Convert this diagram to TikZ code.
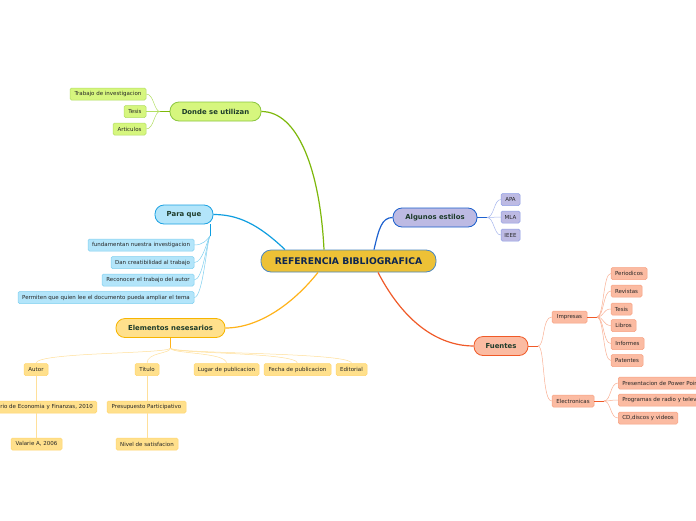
\documentclass[tikz,border=0pt]{standalone}
\usepackage{fontspec}
\setmainfont{DejaVu Sans}
\definecolor{mainf}{HTML}{EDC136}
\definecolor{mainb}{HTML}{4A86C0}
\definecolor{maint}{HTML}{0D2550}
\definecolor{brt}{HTML}{1D3B2A}
\definecolor{leaft}{HTML}{262626}
\definecolor{gf}{HTML}{D6F67E}
\definecolor{gb}{HTML}{8CC63F}
\definecolor{gl}{HTML}{B2DE62}
\definecolor{gc}{HTML}{7DB80A}
\definecolor{bf}{HTML}{B3E5FA}
\definecolor{bb}{HTML}{1BA1E2}
\definecolor{bl}{HTML}{80D0F0}
\definecolor{bc}{HTML}{0F9EE0}
\definecolor{yf}{HTML}{FFE08C}
\definecolor{yb}{HTML}{F7B500}
\definecolor{yl}{HTML}{FFD66E}
\definecolor{yc}{HTML}{FFB31A}
\definecolor{yline}{HTML}{FFE09A}
\definecolor{lf}{HTML}{BDBAE3}
\definecolor{lb}{HTML}{1A5FCC}
\definecolor{ll}{HTML}{8E9EE6}
\definecolor{lc}{HTML}{1E62D0}
\definecolor{lline}{HTML}{A8B8EE}
\definecolor{rf}{HTML}{FBBBA2}
\definecolor{rb}{HTML}{F05A28}
\definecolor{rl}{HTML}{F8A080}
\definecolor{rc}{HTML}{F05A28}
\definecolor{rline}{HTML}{FAB094}
\tikzset{
  mainnode/.style={draw=mainb, fill=mainf, line width=0.8pt, rounded corners=10pt,
    minimum width=175pt, minimum height=22pt, inner sep=0pt,
    font=\bfseries\fontsize{9.2}{10}\selectfont, text=maint},
  branch/.style={line width=0.8pt, rounded corners=9pt, minimum height=19pt,
    inner sep=0pt, font=\bfseries\fontsize{6.9}{8}\selectfont, text=brt},
  leaf/.style={line width=0.5pt, rounded corners=1.5pt, minimum height=12pt,
    inner sep=0pt, font=\fontsize{5.5}{6.5}\selectfont, text=leaft},
  gleaf/.style={leaf, draw=gl, fill=gf},
  bleaf/.style={leaf, draw=bl, fill=bf},
  yleaf/.style={leaf, draw=yl, fill=yf},
  lleaf/.style={leaf, draw=ll, fill=lf},
  rleaf/.style={leaf, draw=rl, fill=rf},
  thick conn/.style={line width=1.2pt},
  thin conn/.style={line width=0.5pt},
}
\begin{document}
\begin{tikzpicture}[x=1pt,y=-1pt]
\useasboundingbox (0,0) rectangle (696,520);
\fill[white] (0,0) rectangle (696,520);

% main
\node[mainnode] (ref) at (348.5,261) {REFERENCIA BIBLIOGRAFICA};

% branches
\node[branch, draw=gb, fill=gf, minimum width=91pt] (don) at (215.5,111.5) {Donde se utilizan};
\node[branch, draw=bb, fill=bf, minimum width=58pt] (para) at (184,214.5) {Para que};
\node[branch, draw=yb, fill=yf, minimum width=109pt] (elem) at (170.5,328) {Elementos nesesarios};
\node[branch, draw=lb, fill=lf, minimum width=84pt] (alg) at (435,217.5) {Algunos estilos};
\node[branch, draw=rb, fill=rf, minimum width=54pt] (fue) at (501,346) {Fuentes};

% main connectors
\draw[thick conn, gc] ([xshift=-24.5pt]ref.north) .. controls (320,170) and (298,111.5) .. (don.east);
\draw[thick conn, bc] ([xshift=-63.5pt]ref.north) .. controls (258,224) and (238,214.5) .. (para.east);
\draw[thick conn, yc] ([xshift=-30.5pt]ref.south) .. controls (292,305) and (258,328) .. (elem.east);
\draw[thick conn, lc] ([xshift=25.5pt]ref.north) .. controls (379,228) and (382,217.5) .. (alg.west);
\draw[thick conn, rc] ([xshift=29.5pt]ref.south) .. controls (408,330) and (445,346) .. (fue.west);

% Donde se utilizan leaves
\node[gleaf, minimum width=76pt] (d1) at (108,94) {Trabajo de investigacion};
\node[gleaf, minimum width=22pt] (d2) at (135,111.5) {Tesis};
\node[gleaf, minimum width=33pt] (d3) at (129.5,129) {Articulos};
\coordinate (dj) at (160,111.5);
\draw[thin conn, gc] (don.west) -- (dj);
\foreach \c in {d1,d2,d3}
  \draw[thin conn, gl] (dj) .. controls (154,111.5) and (154,0 |- \c.east) .. (\c.east);

% Para que leaves
\node[bleaf, minimum width=106pt] (p1) at (141,245) {fundamentan nuestra investigacion};
\node[bleaf, minimum width=83pt] (p2) at (152.5,262.5) {Dan creatibilidad al trabajo};
\node[bleaf, minimum width=92pt] (p3) at (148,280) {Reconocer el trabajo del autor};
\node[bleaf, minimum width=176pt] (p4) at (106,297.5) {Permiten que quien lee el documento pueda ampliar el tema};
\coordinate (pj) at (210,236);
\draw[thin conn, bc, line width=0.8pt] ([xshift=26pt]para.south) -- (pj);
\foreach \c in {p1,p2,p3,p4}
  \draw[thin conn, bl] (pj) .. controls (207,240) and (203,0 |- \c.east) .. (\c.east);

% Elementos nesesarios leaves
\node[yleaf, minimum width=24pt] (e1) at (36,369.5) {Autor};
\node[yleaf, minimum width=24pt] (e2) at (147,369.5) {Titulo};
\node[yleaf, minimum width=65pt] (e3) at (226.5,369.5) {Lugar de publicacion};
\node[yleaf, minimum width=67pt] (e4) at (297.5,369.5) {Fecha de publicacion};
\node[yleaf, minimum width=31pt] (e5) at (351.5,369.5) {Editorial};
\coordinate (ej) at (170.5,348);
\draw[thin conn, yc, line width=0.8pt] (elem.south) -- (ej);
\foreach \c in {e1,e2,e3,e4,e5}
  \draw[thin conn, yline] (ej) .. controls (170.5,354) and (\c.north |- 0,352) .. (\c.north);
\node[yleaf, inner xsep=4pt, anchor=east] (e11) at (97,407) {Ministerio de Economia y Finanzas, 2010};
\node[yleaf, minimum width=51pt] (e12) at (36.5,444) {Valarie A, 2006};
\node[yleaf, minimum width=79pt] (e21) at (146.5,407) {Presupuesto Participativo};
\node[yleaf, minimum width=62pt] (e22) at (147,444) {Nivel de satisfacion};
\draw[thin conn, yline] (e1.south) -- (e1.south |- e11.north);
\draw[thin conn, yline] (e1.south |- e11.south) -- (e1.south |- e12.north);
\draw[thin conn, yline] (e2.south) -- (e2.south |- e21.north);
\draw[thin conn, yline] (e2.south |- e21.south) -- (e2.south |- e22.north);

% Algunos estilos leaves
\node[lleaf, minimum width=19pt] (a1) at (510.5,199.5) {APA};
\node[lleaf, minimum width=19pt] (a2) at (510.5,217) {MLA};
\node[lleaf, minimum width=19pt] (a3) at (510.5,235) {IEEE};
\coordinate (aj) at (487,217.5);
\draw[thin conn, lc, line width=0.8pt] (alg.east) -- (aj);
\foreach \c in {a1,a2,a3}
  \draw[thin conn, lline] (aj) .. controls (494,217.5) and (494,0 |- \c.west) .. (\c.west);

% Fuentes
\node[rleaf, minimum width=35pt] (imp) at (569.5,317) {Impresas};
\node[rleaf, minimum width=42pt] (ele) at (573,401) {Electronicas};
\coordinate (fj) at (538,346);
\draw[thin conn, rc, line width=0.8pt] (fue.east) -- (fj);
\draw[thin conn, rline] (fj) .. controls (545,346) and (542,317) .. (imp.west);
\draw[thin conn, rline] (fj) .. controls (545,346) and (542,401) .. (ele.west);

\node[rleaf, minimum width=36pt] (i1) at (629,273.5) {Periodicos};
\node[rleaf, minimum width=31pt] (i2) at (626.5,291) {Revistas};
\node[rleaf, minimum width=21pt] (i3) at (621.5,309) {Tesis};
\node[rleaf, minimum width=25pt] (i4) at (623.5,325.5) {Libros};
\node[rleaf, minimum width=33pt] (i5) at (627.5,343.5) {Informes};
\node[rleaf, minimum width=32pt] (i6) at (627,360.5) {Patentes};
\coordinate (ij) at (597,317);
\draw[thin conn, rc, line width=0.8pt] (imp.east) -- (ij);
\foreach \c in {i1,i2,i3,i4,i5,i6}
  \draw[thin conn, rline] (ij) .. controls (604,317) and (603,0 |- \c.west) .. (\c.west);

\node[rleaf, inner xsep=4pt, anchor=west] (x1) at (618,383) {Presentacion de Power Point};
\node[rleaf, inner xsep=4pt, anchor=west] (x2) at (618,400) {Programas de radio y television};
\node[rleaf, inner xsep=4pt, anchor=west] (x3) at (618,418) {CD,discos y videos};
\coordinate (xj) at (604,401);
\draw[thin conn, rc, line width=0.8pt] (ele.east) -- (xj);
\foreach \c in {x1,x2,x3}
  \draw[thin conn, rline] (xj) .. controls (611,401) and (610,0 |- \c.west) .. (\c.west);
\end{tikzpicture}
\end{document}
